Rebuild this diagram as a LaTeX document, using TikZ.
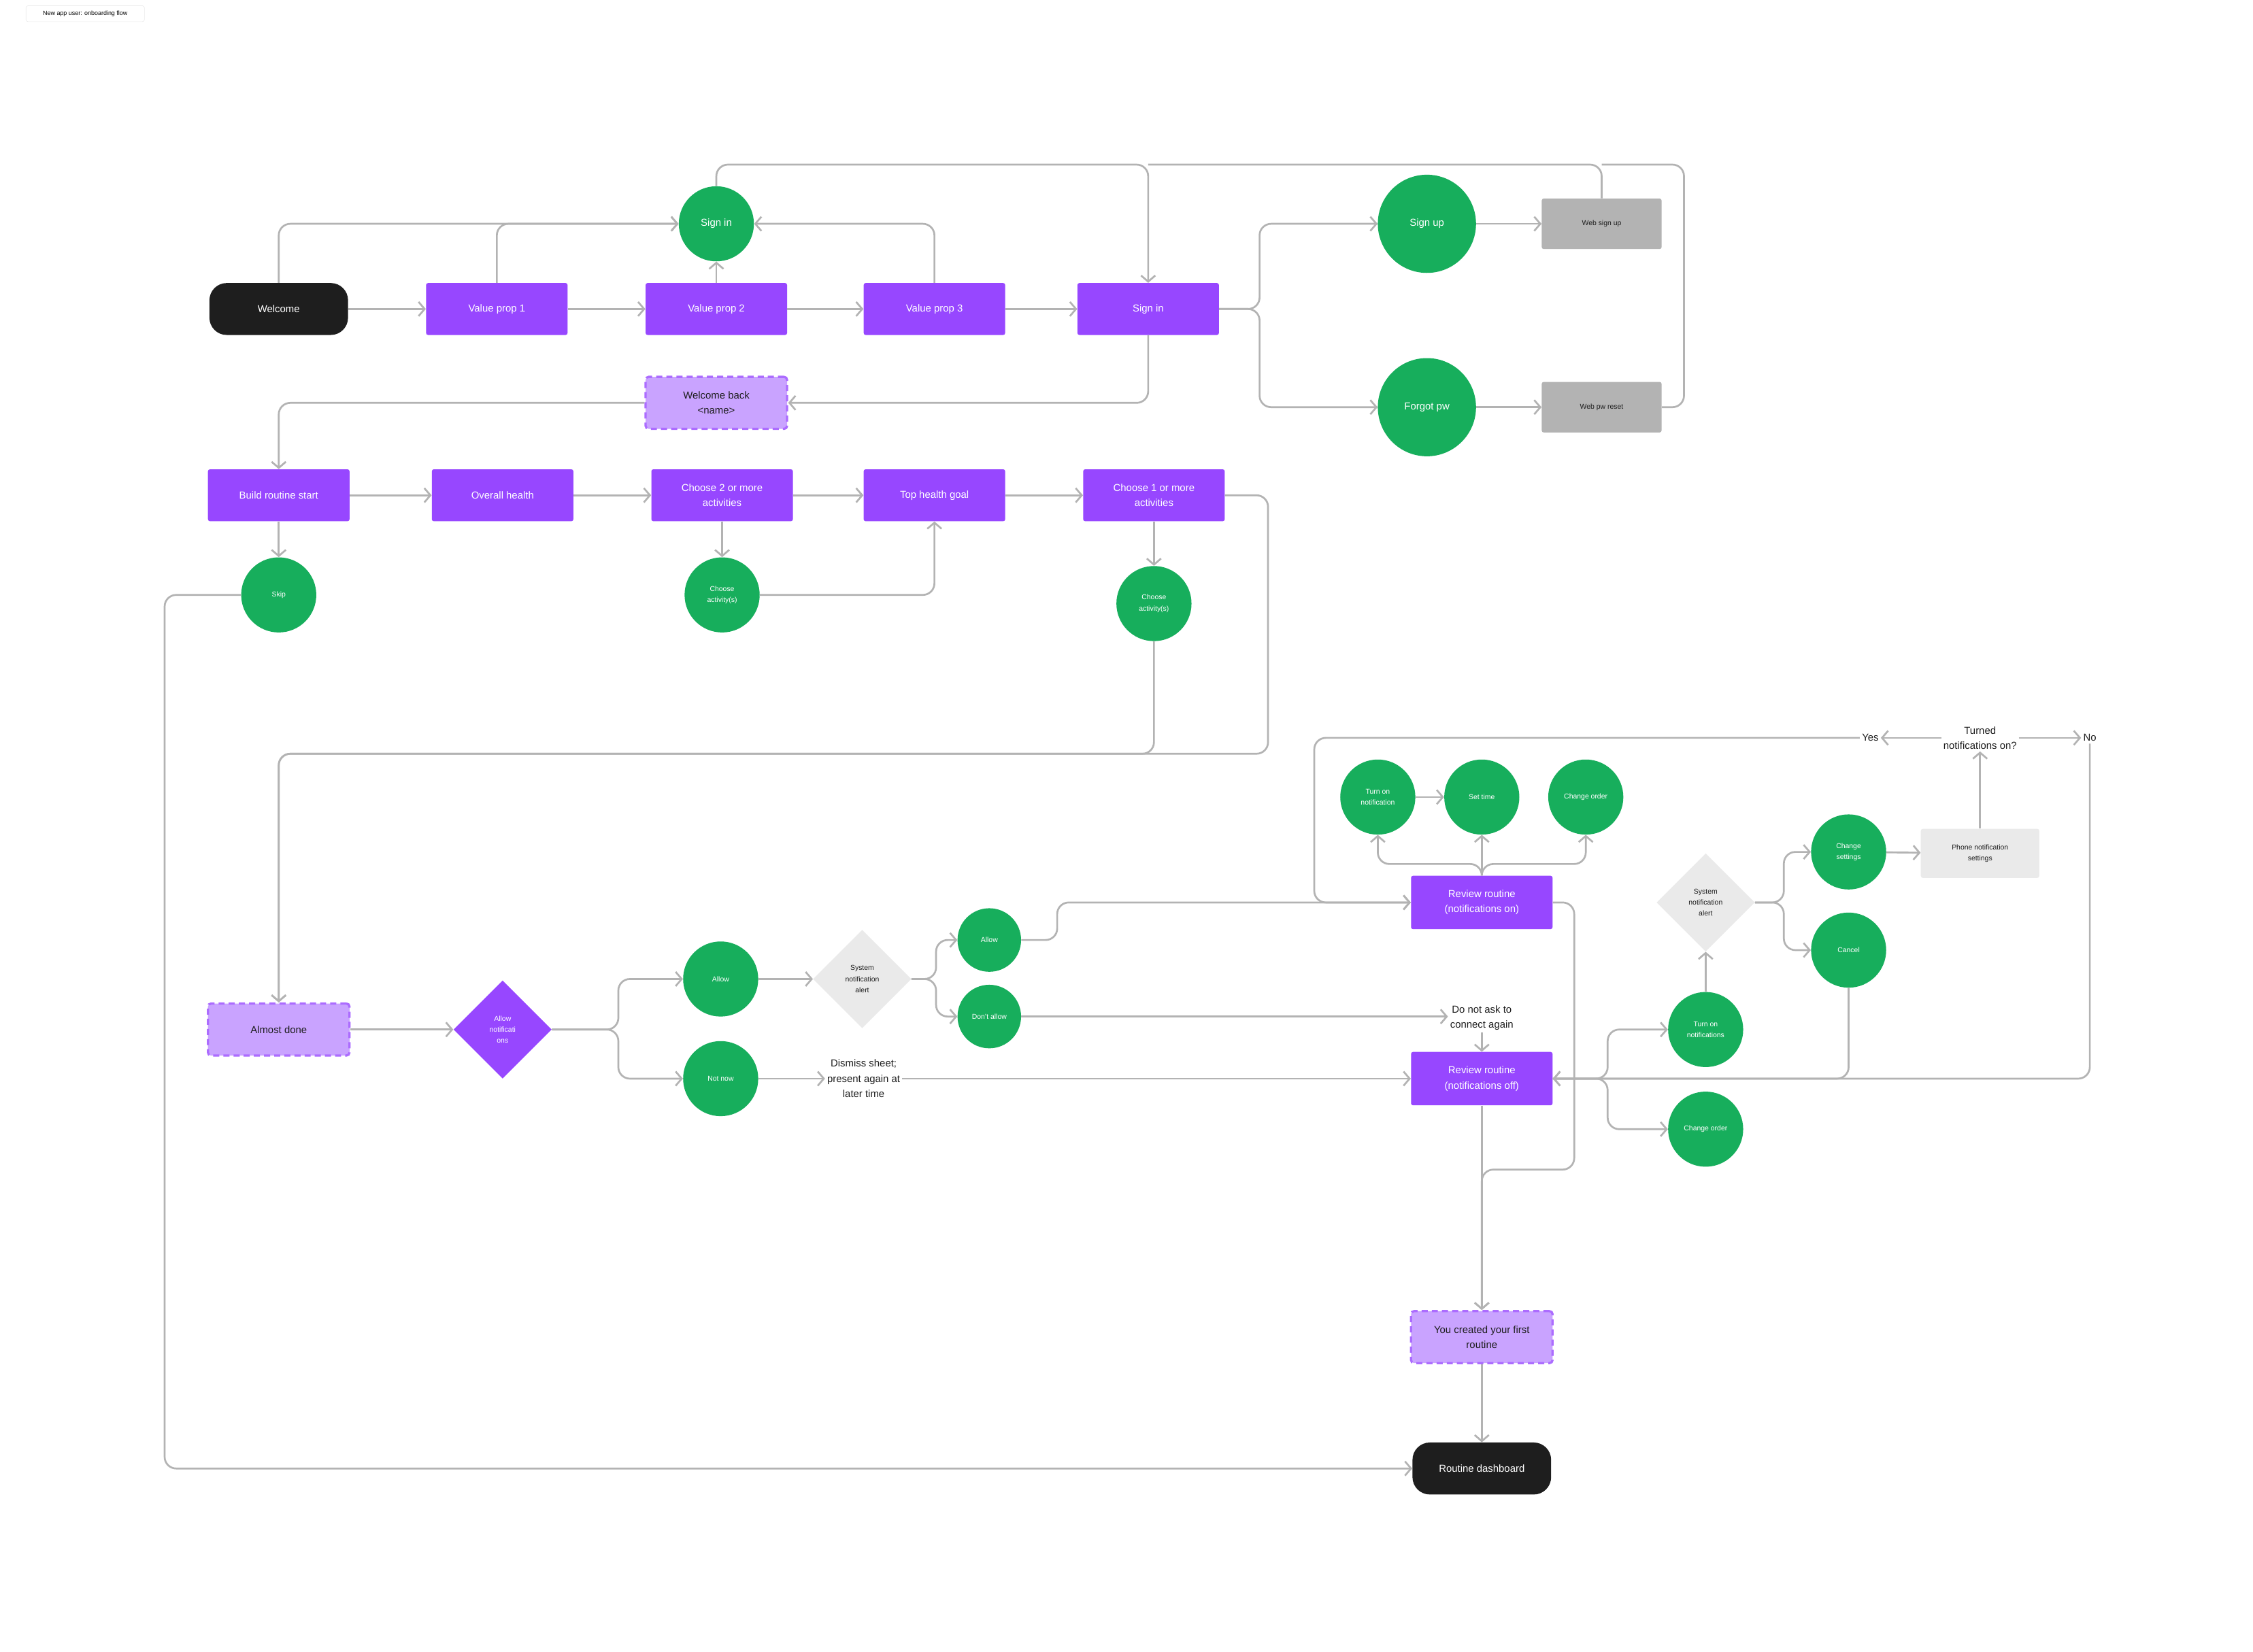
\documentclass[tikz,border=0pt]{standalone}
\usepackage{fontspec}
\setmainfont{Liberation Sans}
\usetikzlibrary{shapes.geometric,arrows.meta}
\definecolor{pur}{HTML}{9747FF}
\definecolor{lpur}{HTML}{C9A3FF}
\definecolor{grn}{HTML}{17AE5C}
\definecolor{blk}{HTML}{1E1E1E}
\definecolor{lin}{HTML}{B3B3B3}
\definecolor{gbox}{HTML}{B3B3B3}
\definecolor{lgray}{HTML}{EAEAEA}
\tikzset{
 x=0.05cm,y=-0.05cm,
 conn/.style={draw=lin,line width=1.8pt,rounded corners=0.4cm,-{Straight Barb[length=6pt,width=14pt,line width=1.8pt]}},
 plain/.style={draw=lin,line width=1.8pt,rounded corners=0.4cm},
 pbox/.style={fill=pur,text=white,minimum width=4.9cm,minimum height=1.8cm,rounded corners=2pt,align=center,font=\fontsize{10}{15}\selectfont,inner sep=1pt},
 dbox/.style={fill=lpur,draw=pur!80,dashed,line width=2.2pt,dash pattern=on 6pt off 4pt,text=blk,minimum width=4.9cm,minimum height=1.8cm,rounded corners=3pt,align=center,font=\fontsize{10}{15}\selectfont},
 bbox/.style={fill=blk,text=white,minimum width=4.8cm,minimum height=1.8cm,rounded corners=0.6cm,align=center,font=\fontsize{10}{15}\selectfont},
 gc/.style={circle,fill=grn,text=white,minimum size=2.6cm,inner sep=0pt,align=center,font=\fontsize{7}{11}\selectfont},
 bgc/.style={circle,fill=grn,text=white,minimum size=3.4cm,inner sep=0pt,align=center,font=\fontsize{10}{15}\selectfont},
 gbx/.style={fill=gbox,text=blk,minimum width=4.15cm,minimum height=1.75cm,rounded corners=2pt,font=\fontsize{7}{11}\selectfont},
 lbx/.style={fill=lgray,text=blk,minimum width=4.1cm,minimum height=1.7cm,rounded corners=2pt,align=center,font=\fontsize{7}{11}\selectfont},
 gdia/.style={diamond,fill=lgray,text=blk,minimum size=3.4cm,inner sep=0pt,align=center,font=\fontsize{7}{11}\selectfont},
 pdia/.style={diamond,fill=pur,text=white,minimum size=3.4cm,inner sep=0pt,align=center,font=\fontsize{7}{11}\selectfont},
 txt/.style={text=blk,align=center,font=\fontsize{10}{15}\selectfont,inner sep=2pt},
}
\begin{document}
\begin{tikzpicture}
\fill[white] (0,0) rectangle (1560,1144);
\useasboundingbox (0,0) rectangle (1560,1144);
\node[draw=lgray,fill=white,rounded corners=2pt,font=\fontsize{6}{8}\selectfont,minimum width=4.1cm,minimum height=0.55cm,inner sep=1pt] (title) at (59,9.5) {New app user: onboarding flow};
% row 1
\node[bbox] (welcome) at (193,214) {Welcome};
\node[pbox] (vp1) at (344,214) {Value prop 1};
\node[pbox] (vp2) at (496,214) {Value prop 2};
\node[pbox] (vp3) at (647,214) {Value prop 3};
\node[pbox] (sir) at (795,214) {Sign in};
\node[gc,font=\fontsize{10}{15}\selectfont] (sic) at (496,155) {Sign in};
\node[bgc] (su) at (988,155) {Sign up};
\node[bgc] (fp) at (988,282) {Forgot pw};
\node[gbx] (wsu) at (1109,155) {Web sign up};
\node[gbx] (wpr) at (1109,282) {Web pw reset};
\node[dbox] (wb) at (496,279) {Welcome back\\<name>};
% row 2
\node[pbox] (brs) at (193,343) {Build routine start};
\node[pbox] (oh) at (348,343) {Overall health};
\node[pbox] (c2) at (500,343) {Choose 2 or more\\activities};
\node[pbox] (thg) at (647,343) {Top health goal};
\node[pbox] (c1) at (799,343) {Choose 1 or more\\activities};
\node[gc] (skip) at (193,412) {Skip};
\node[gc] (ca1) at (500,412) {Choose\\activity(s)};
\node[gc] (ca2) at (799,418) {Choose\\activity(s)};
% lower
\node[dbox] (ad) at (193,713) {Almost done};
\node[pdia] (an) at (348,713) {Allow\\notificati\\ons};
\node[gc] (al1) at (499,678) {Allow};
\node[gc] (nn) at (499,747) {Not now};
\node[gdia] (sa1) at (597,678) {System\\notification\\alert};
\node[gc,minimum size=2.2cm] (al2) at (685,651) {Allow};
\node[gc,minimum size=2.2cm] (da) at (685,704) {Don't allow};
\node[txt] (ds) at (598,747) {Dismiss sheet;\\present again at\\later time};
\node[txt] (dna) at (1026,705) {Do not ask to\\connect again};
\node[pbox,minimum height=1.85cm] (ron) at (1026,625) {Review routine\\(notifications on)};
\node[pbox,minimum height=1.85cm] (roff) at (1026,747) {Review routine\\(notifications off)};
\node[gc] (ton1) at (954,552) {Turn on\\notification};
\node[gc] (st) at (1026,552) {Set time};
\node[gc] (co1) at (1098,552) {Change order};
\node[gdia] (sa2) at (1181,625) {System\\notification\\alert};
\node[gc] (cs) at (1280,590) {Change\\settings};
\node[gc] (cn) at (1280,658) {Cancel};
\node[lbx] (pns) at (1371,591) {Phone notification\\settings};
\node[txt] (tno) at (1371,511) {Turned\\notifications on?};
\node[txt] (yes) at (1295,511) {Yes};
\node[txt] (no) at (1447,511) {No};
\node[gc] (ton2) at (1181,713) {Turn on\\notifications};
\node[gc] (co2) at (1181,782) {Change order};
\node[dbox] (ycr) at (1026,926) {You created your first\\routine};
\node[bbox] (rd) at (1026,1017) {Routine dashboard};
% connectors row1
\draw[conn] (welcome) -- (vp1);
\draw[conn] (vp1) -- (vp2);
\draw[conn] (vp2) -- (vp3);
\draw[conn] (vp3) -- (sir);
\draw[conn] (welcome.north) |- (sic.west);
\draw[conn] (vp1.north) |- (sic.west);
\draw[conn] (vp2) -- (sic);
\draw[conn] (vp3.north) |- (sic.east);
\draw[conn] (sic.north) |- (795,114) -- (sir.north);
\draw[plain] (wsu.north) |- (795,114);
\draw[plain] (wpr.east) -| (1166,114) -- (1109,114);
\draw[conn] (sir.east) -- ++(28,0) |- (su.west);
\draw[conn] (sir.east) -- ++(28,0) |- (fp.west);
\draw[conn] (su) -- (wsu);
\draw[conn] (fp) -- (wpr);
\draw[conn] (sir.south) |- (wb.east);
\draw[conn] (wb.west) -| (brs.north);
% row 2
\draw[conn] (brs) -- (oh);
\draw[conn] (oh) -- (c2);
\draw[conn] (c2) -- (thg);
\draw[conn] (thg) -- (c1);
\draw[conn] (brs) -- (skip);
\draw[conn] (c2) -- (ca1);
\draw[conn] (ca1.east) -| (thg.south);
\draw[conn] (c1) -- (ca2);
\draw[conn] (c1.east) -| (878,522) -| (ad.north);
\draw[conn] (ca2.south) |- (193,522) -- (ad.north);
\draw[conn] (skip.west) -| (114,1017) -- (rd.west);
% lower
\draw[conn] (ad) -- (an);
\draw[conn] (an.east) -- ++(46,0) |- (al1.west);
\draw[conn] (an.east) -- ++(46,0) |- (nn.west);
\draw[conn] (al1) -- (sa1);
\draw[conn] (nn) -- (ds);
\draw[conn] (ds.east) -- (roff.west);
\draw[conn] (sa1.east) -- ++(17,0) |- (al2.west);
\draw[conn] (sa1.east) -- ++(17,0) |- (da.west);
\draw[conn] (al2.east) -| (732,625) -- (ron.west);
\draw[conn] (da.east) -- (dna.west |- da.east);
\draw[conn] (dna) -- (roff);
\draw[conn] (ron.north) -- ++(0,-8) -| (ton1.south);
\draw[conn] (ron.north) -- (st.south);
\draw[conn] (ron.north) -- ++(0,-8) -| (co1.south);
\draw[conn] (ton1) -- (st);
\draw[conn] (ron.east) -| (1090,810) -| (ycr.north);
\draw[conn] (roff) -- (ycr);
\draw[conn] (ycr) -- (rd);
\draw[conn] (roff.east) -- ++(38,0) |- (ton2.west);
\draw[conn] (roff.east) -- ++(38,0) |- (co2.west);
\draw[conn] (no.south) |- (roff.east);
\draw[conn] (cn.south) |- (roff.east);
\draw[conn] (ton2) -- (sa2);
\draw[conn] (sa2.east) -- ++(20,0) |- (cs.west);
\draw[conn] (sa2.east) -- ++(20,0) |- (cn.west);
\draw[conn] (cs) -- (pns);
\draw[conn] (pns) -- (tno);
\draw[conn] (tno) -- (yes);
\draw[conn] (tno) -- (no);
\draw[conn] (yes.west) -| (910,625) -- (ron.west);
\end{tikzpicture}
\end{document}
